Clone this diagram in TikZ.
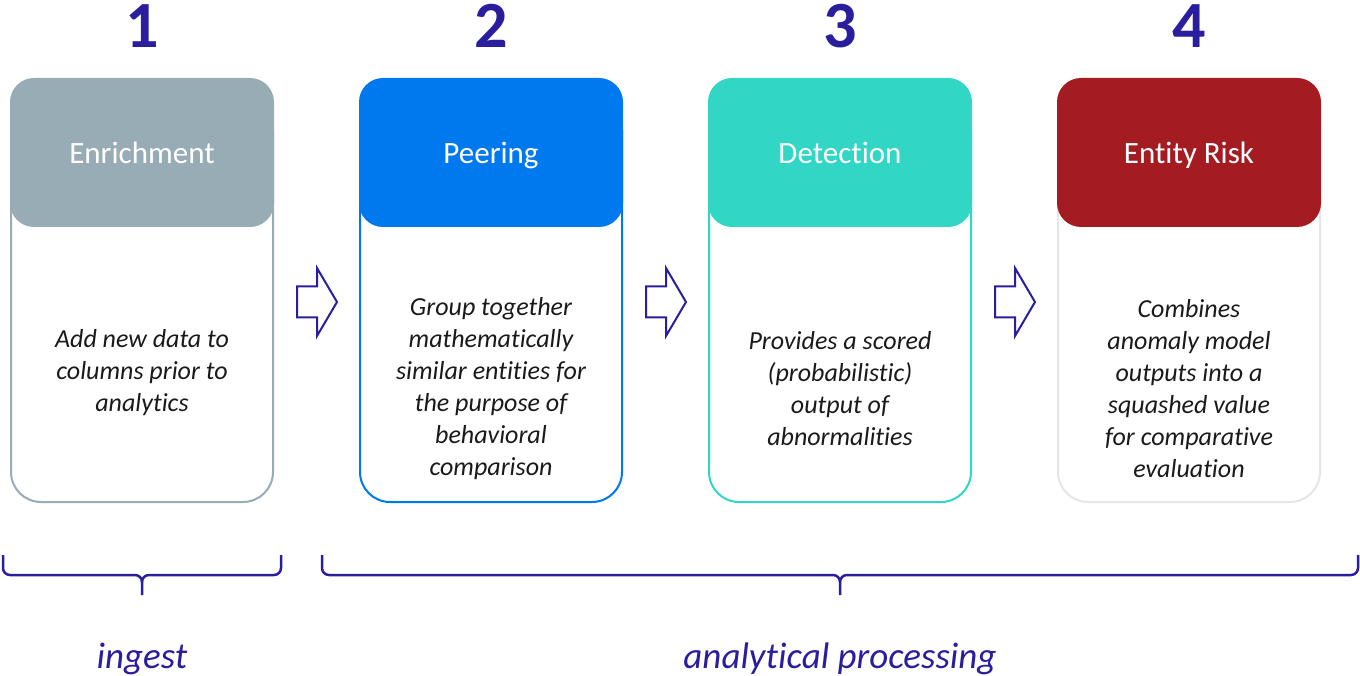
\documentclass[tikz,border=0pt]{standalone}
\usepackage{fontspec}
\setmainfont{Carlito}[Ligatures=NoCommon]
\definecolor{stepgray}{HTML}{98ACB6}
\definecolor{stepblue}{HTML}{0179EE}
\definecolor{stepteal}{HTML}{31D6C5}
\definecolor{stepred}{HTML}{A41C22}
\definecolor{stepoutline}{HTML}{E4E7E8}
\definecolor{indigo}{HTML}{2A1E9E}
\definecolor{bodyink}{HTML}{1A1A1A}
\tikzset{
  stepnum/.style={text=indigo, inner sep=0pt, font=\bfseries\fontsize{66}{70}\selectfont},
  stephead/.style={fill=#1, draw=none, rounded corners=24pt, minimum width=264pt,
    minimum height=149pt, inner sep=0pt, text height=23pt, text depth=0pt,
    text=white, font=\fontsize{31}{37}\selectfont},
  stepframe/.style={draw=#1, fill=white, line width=2pt, rounded corners=30pt,
    minimum width=262pt, minimum height=402pt, inner sep=0pt},
  stepbody/.style={text=bodyink, align=center, inner sep=0pt,
    font=\itshape\fontsize{26}{32}\selectfont},
  blockarrow/.style={draw=indigo, line width=2pt, fill=white, line join=miter},
  bracket/.style={draw=indigo, line width=2.5pt},
  phase/.style={text=indigo, inner sep=0pt, font=\itshape\fontsize{37}{41}\selectfont}
}
\begin{document}
\begin{tikzpicture}[x=1pt,y=-1pt]
\useasboundingbox (0,0) rectangle (1360,676);

% four steps: number, outlined body, coloured header, description
\foreach \i/\cx/\col/\edge/\title in {
  1/142/stepgray/stepgray/Enrichment,
  2/491/stepblue/stepblue/Peering,
  3/840/stepteal/stepteal/Detection,
  4/1189/stepred/stepoutline/Entity Risk}{
  \node[stepnum] (num\i) at (\cx,26) {\i};
  \node[stepframe=\edge] (frame\i) at (\cx,301) {};
  \node[stephead=\col] (head\i) at (\cx,152.5) {\title};
}

\node[stepbody] (body1) at (142,373) {Add new data to\\columns prior to\\analytics};
\node[stepbody] (body2) at (491,389) {Group together\\mathematically\\similar entities for\\the purpose of\\behavioral\\comparison};
\node[stepbody] (body3) at (840,389) {Provides a scored\\(probabilistic)\\output of\\abnormalities};
\node[stepbody] (body4) at (1189,389) {Combines\\anomaly model\\outputs into a\\squashed value\\for comparative\\evaluation};

% hollow block arrows between the steps
\foreach \a/\ax in {1/297,2/646,3/995}{
  \coordinate (arr\a) at (\ax,302);
  \draw[blockarrow] (arr\a) ++(0,-15.5) -- ++(20,0) -- ++(0,-18.5) -- ++(20,34)
    -- ++(-20,34) -- ++(0,-18.5) -- ++(-20,0) -- cycle;
}

% brackets grouping the phases
\coordinate (ingL) at (3,555);
\coordinate (ingM) at (142,595);
\coordinate (ingR) at (281,555);
\draw[bracket] (ingL) -- (3,568) to[out=-90,in=180] (10,575) -- (135,575)
  to[out=0,in=90] (142,582) -- (ingM);
\draw[bracket] (142,582) to[out=90,in=180] (149,575) -- (274,575)
  to[out=0,in=-90] (281,568) -- (ingR);

\coordinate (anaL) at (322,555);
\coordinate (anaM) at (840,595);
\coordinate (anaR) at (1358,555);
\draw[bracket] (anaL) -- (322,568) to[out=-90,in=180] (329,575) -- (833,575)
  to[out=0,in=90] (840,582) -- (anaM);
\draw[bracket] (840,582) to[out=90,in=180] (847,575) -- (1351,575)
  to[out=0,in=-90] (1358,568) -- (anaR);

\node[phase] (ingest) at (142,659) {ingest};
\node[phase] (analytic) at (840,659) {analytical processing};
\end{tikzpicture}
\end{document}
